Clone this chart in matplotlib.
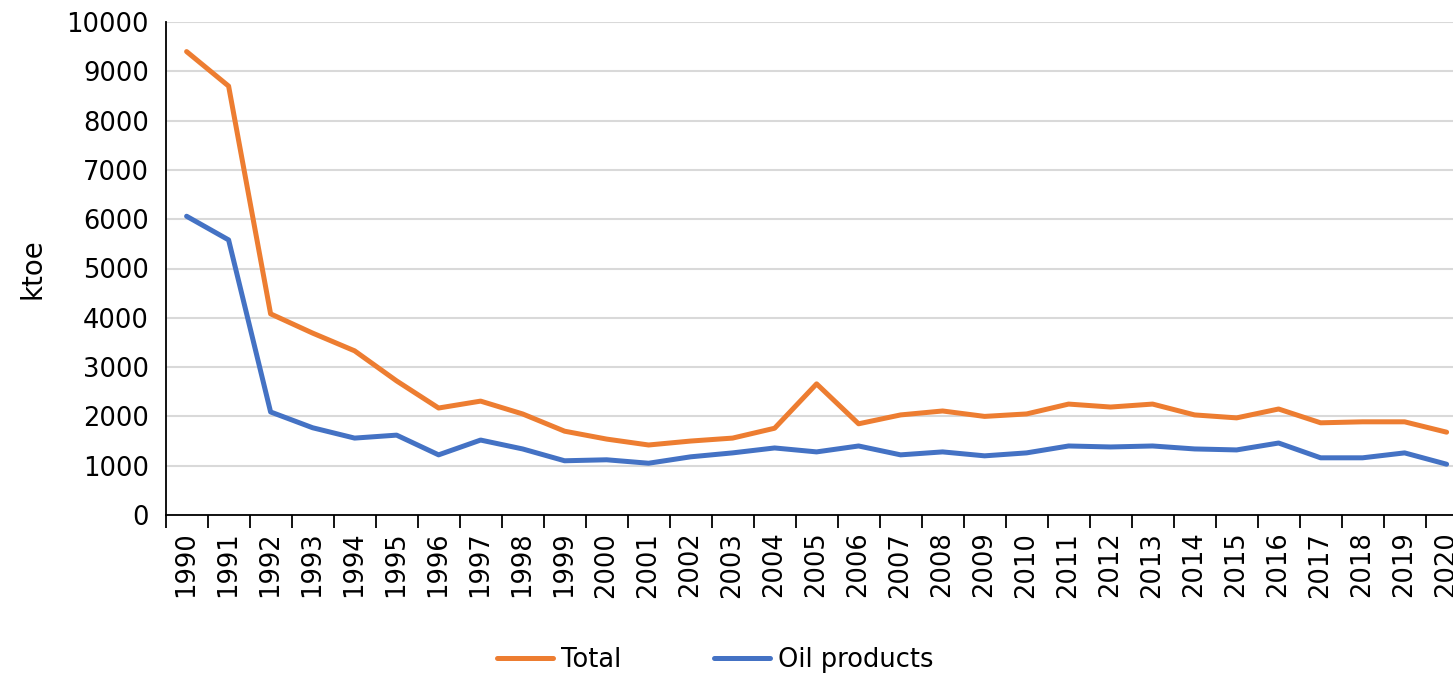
import numpy as np
import matplotlib
matplotlib.use("Agg")
import matplotlib.pyplot as plt
from matplotlib.ticker import FixedLocator

years = list(range(1990, 2021))
total = [9400, 8700, 4080, 3690, 3330, 2720, 2170, 2310, 2050, 1700,
         1540, 1420, 1500, 1560, 1760, 2660, 1850, 2030, 2110, 2000,
         2050, 2250, 2190, 2250, 2030, 1970, 2150, 1870, 1890, 1890, 1680]
oil_products = [6060, 5580, 2090, 1770, 1560, 1620, 1220, 1520, 1340, 1100,
                1120, 1050, 1180, 1260, 1360, 1280, 1400, 1220, 1280, 1200,
                1260, 1400, 1380, 1400, 1340, 1320, 1460, 1160, 1160, 1260, 1030]

plt.rcParams['font.family'] = ['DejaVu Sans']

fig = plt.figure(figsize=(14.53, 6.76), dpi=100)
# axes runs past the right edge, like the cropped original
ax = fig.add_axes([165.6 / 1453, 161 / 676, 1302 / 1453, 493 / 676])

x = np.arange(len(years))
ax.plot(x, total, color="#ED7D31", linewidth=3.6, label="Total", solid_capstyle="round", zorder=3)
ax.plot(x, oil_products, color="#4472C4", linewidth=3.6, label="Oil products", solid_capstyle="round", zorder=3)

ax.set_xlim(-0.5, len(years) - 0.5)
ax.set_ylim(0, 10000)
ax.set_yticks(np.arange(0, 10001, 1000))
ax.yaxis.grid(True, color="#d9d9d9", linewidth=1.5)
ax.set_axisbelow(True)

ax.set_xticks(x)
ax.set_xticklabels([str(y) for y in years], rotation=90, fontsize=18.5)
ax.xaxis.set_minor_locator(FixedLocator(np.arange(-0.5, len(years), 1)))
ax.tick_params(axis="x", which="major", length=0, pad=12)
ax.tick_params(axis="x", which="minor", length=9, width=1.3, direction="out", color="black")
ax.tick_params(axis="y", length=0, labelsize=18.5, pad=12)

for s in ["top", "right"]:
    ax.spines[s].set_visible(False)
ax.spines["left"].set_linewidth(1.3)
ax.spines["bottom"].set_linewidth(1.3)

ax.set_ylabel("ktoe", fontsize=20, labelpad=14)

fig.legend(loc="center", bbox_to_anchor=(715 / 1453, 1 - 660 / 676), ncol=2,
           frameon=False, fontsize=18.5, handlelength=2.2, columnspacing=3.6,
           handletextpad=0.3)

fig.savefig("out.png", dpi=100)
